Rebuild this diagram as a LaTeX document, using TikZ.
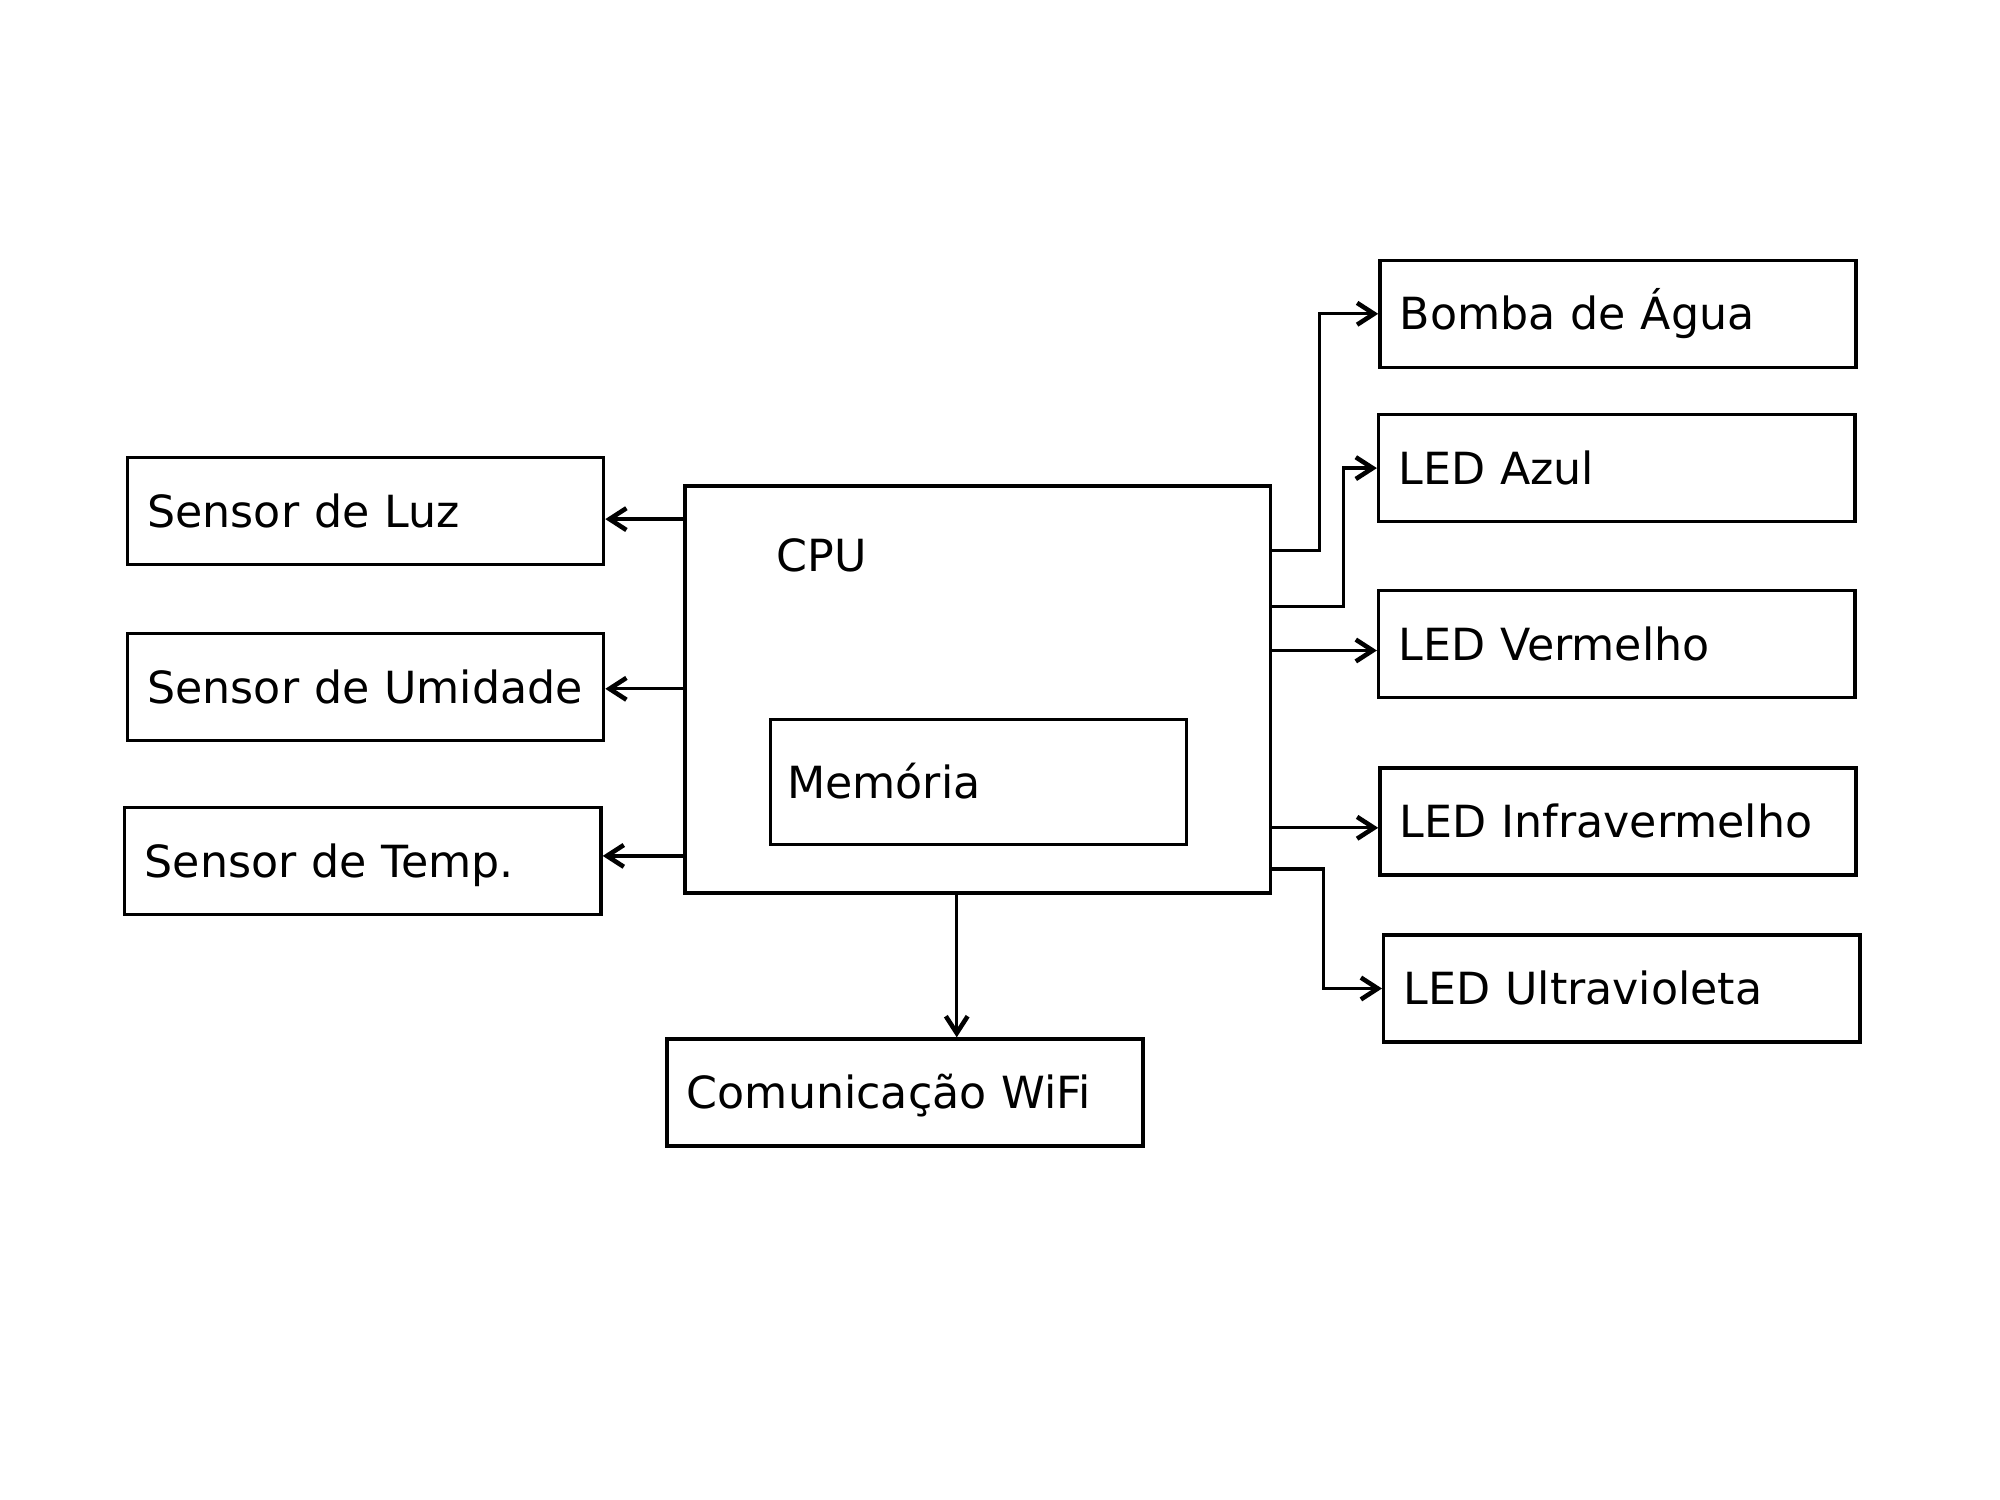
\documentclass[tikz,border=0pt]{standalone}
\usepackage{fontspec}
\setmainfont{DejaVu Sans}
\usetikzlibrary{arrows.meta}

\begin{document}
\begin{tikzpicture}
        [%%%%%%%%%%%%%%%%%%%%%%%%%%%%%%
        x=0.01cm, y=-0.01cm,
        box/.style={rectangle,draw=black,line width=0.95pt,font=\fontsize{12.6}{15}\selectfont,
          text width=4.36cm, inner xsep=0.2cm, minimum height=1.07cm, text height=9.2pt, text depth=0pt},
        blk/.style={rectangle,draw=black,line width=0.95pt,inner sep=0pt},
        lbl/.style={font=\fontsize{12.6}{15}\selectfont,inner sep=0pt},
        arr/.style={line width=0.95pt,-{Straight Barb[length=4.8pt,width=6.2pt,line width=1.3pt]}},
        ]%%%%%%%%%%%%%%%%%%%%%%%%%%%%%%

        \useasboundingbox (0,0) rectangle (2000,1500);

        \node[box] (luz) at (365.5,510.9) {Sensor de Luz};
        \node[box] (umid) at (365.5,686.9) {Sensor de Umidade};
        \node[box] (temp) at (362.9,861) {Sensor de Temp.};

        \node[blk, minimum width=5.854cm, minimum height=4.069cm] (cpu) at (977.7,689.5) {};
        \node[lbl, anchor=base west] (cputxt) at ([xshift=0.93cm,yshift=-0.874cm]cpu.north west) {CPU};
        \node[box, text width=3.822cm, inner xsep=0.168cm, minimum height=1.25cm] (mem) at (978.3,781.9) {Memória};

        \node[box] (wifi) at (905,1092.5) {Comunicação WiFi};

        \foreach \nome/\txt/\x/\y in {bomba/Bomba de Água/1618/313.8, azul/LED Azul/1616.7/468.1,
          verm/LED Vermelho/1616.7/644.2, infra/LED Infravermelho/1618/821.5, uv/LED Ultravioleta/1621.8/988.5}
          \node[box] (\nome) at (\x,\y) {\txt};

        % sensores
        \foreach \s/\d in {luz/-0.082, umid/-0.019, temp/0.051}{
          \coordinate (p\s) at ([yshift=\d cm]\s.east);
          \draw[arr] (cpu.west |- p\s) -- (p\s);
        }

        % saidas
        \draw[arr] ([yshift=-0.663cm]cpu.north east) -- ++(0.472cm,0) |- (bomba.west);
        \draw[arr] ([yshift=-1.224cm]cpu.north east) -- ++(0.714cm,0) |- (azul.west);
        \foreach \s in {verm, infra}{
          \coordinate (p\s) at ([yshift=-0.063cm]\s.west);
          \draw[arr] (cpu.east |- p\s) -- (p\s);
        }
        \draw[arr] ([yshift=0.256cm]cpu.south east) -- ++(0.51cm,0) |- (uv.west);

        \coordinate (pwifi) at ([xshift=0.517cm]wifi.north);
        \draw[arr] (cpu.south -| pwifi) -- (pwifi);

      \end{tikzpicture}
\end{document}
